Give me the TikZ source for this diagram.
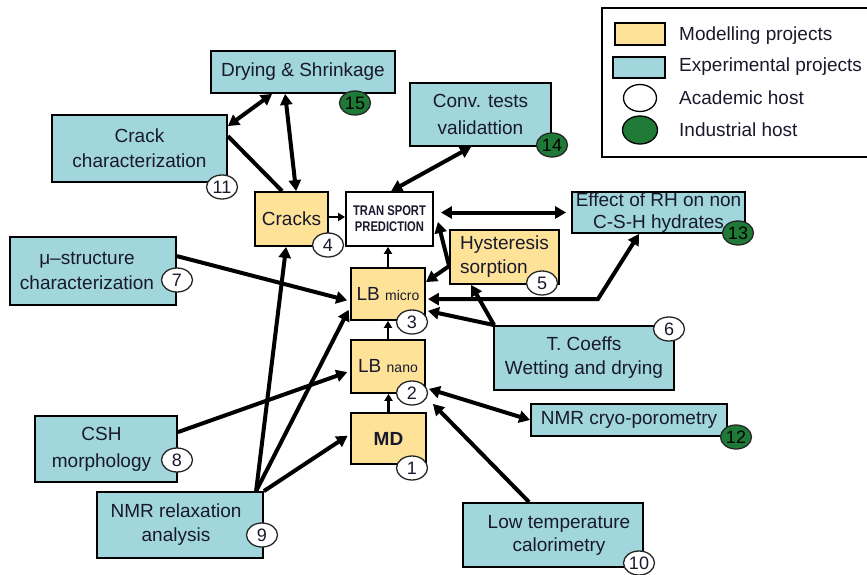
\documentclass[tikz,border=0pt]{standalone}
\usepackage{fontspec}
\setmainfont{Liberation Sans}
\usetikzlibrary{arrows.meta,shapes.geometric}
\definecolor{ylw}{RGB}{254,226,152}
\definecolor{cyn}{RGB}{160,214,220}
\definecolor{grn}{RGB}{31,122,56}
\definecolor{txt}{RGB}{25,25,45}
\begin{document}
\begin{tikzpicture}[x=1pt,y=-1pt,
  box/.style={draw=black, line width=1.8pt, inner sep=0pt, align=center, text=txt, font=\fontsize{19}{25}\selectfont},
  ybox/.style={box, fill=ylw},
  cbox/.style={box, fill=cyn},
  num/.style={ellipse, draw=black!85, line width=1.3pt, fill=white, minimum width=31pt, minimum height=24pt, inner sep=0pt, font=\fontsize{18}{18}\selectfont, text=txt},
  numg/.style={num, fill=grn, text=black},
  arr/.style={line width=4pt, -{Triangle[length=11pt,width=12pt]}},
  dbl/.style={line width=4pt, {Triangle[length=11pt,width=12pt]}-{Triangle[length=11pt,width=12pt]}},
  pl/.style={line width=4pt},
  sarr/.style={line width=2.8pt, -{Triangle[length=7pt,width=8pt]}},
  lgtext/.style={anchor=west, inner sep=0pt, text=txt, font=\fontsize{19}{22}\selectfont},
]
\useasboundingbox (0,0) rectangle (867,575);
\clip (0,0) rectangle (867,575);

% legend
\draw[line width=1.5pt] (602,8) rectangle (880,157);
\node[draw=black, line width=1.5pt, fill=ylw, minimum width=50pt, minimum height=22pt, inner sep=0pt] (lgy) at (640,34) {};
\node[draw=black, line width=1.5pt, fill=cyn, minimum width=52pt, minimum height=21pt, inner sep=0pt] (lgc) at (639,67.5) {};
\node[ellipse, draw=black, line width=1.3pt, fill=white, minimum width=33pt, minimum height=27pt, inner sep=0pt] (lga) at (640,98) {};
\node[ellipse, draw=black, line width=1.3pt, fill=grn, minimum width=35pt, minimum height=28pt, inner sep=0pt] (lgi) at (640,130) {};
\node[lgtext] (lty) at (679,36) {Modelling projects};
\node[lgtext] (ltc) at (679,67) {Experimental projects};
\node[lgtext] (lta) at (679,98) {Academic host};
\node[lgtext] (lti) at (679,130) {Industrial host};

% boxes
\node[cbox, minimum width=184pt, minimum height=42pt] (dry) at (303,72) {Drying \& Shrinkage};
\node[cbox, minimum width=175pt, minimum height=67pt] (crackc) at (139.5,148.5) {Crack\\characterization};
\node[ybox, minimum width=73pt, minimum height=54pt] (cracks) at (291.5,219) {Cracks};
\node[box, fill=white, minimum width=87pt, minimum height=54pt, font=\bfseries\fontsize{14}{16}\selectfont] (trans) at (389.5,219) {\scalebox{0.8}[1]{TRAN SPORT}\\\scalebox{0.8}[1]{PREDICTION}};
\node[cbox, minimum width=166pt, minimum height=68pt] (mu) at (93,271) {μ–structure\hspace*{12pt}\\characterization\hspace*{12pt}};
\node[cbox, minimum width=141pt, minimum height=63pt, font=\fontsize{19}{27}\selectfont] (conv) at (480.5,114.5) {Conv. tests\\validattion};
\node[cbox, minimum width=173pt, minimum height=41pt, font=\fontsize{19}{22}\selectfont] (effect) at (658.5,212.5) {Effect of RH on non\\C-S-H hydrates};
\node[ybox, minimum width=109pt, minimum height=54pt, align=left, font=\fontsize{19}{24}\selectfont] (hyst) at (504.5,257) {Hysteresis\\sorption};
\node[ybox, minimum width=74pt, minimum height=52pt] (lbm) at (388,294) {LB {\fontsize{14}{14}\selectfont micro}};
\node[ybox, minimum width=74pt, minimum height=53pt] (lbn) at (388,366.5) {LB {\fontsize{14}{14}\selectfont nano}};
\node[ybox, minimum width=75pt, minimum height=51pt] (md) at (388.5,438.5) {\bfseries MD};
\node[cbox, minimum width=180pt, minimum height=64pt, font=\fontsize{19}{24}\selectfont] (tco) at (584,358) {T. Coeffs\\Wetting and drying};
\node[cbox, minimum width=196pt, minimum height=32pt] (cryo) at (629,420) {NMR cryo-porometry};
\node[cbox, minimum width=180pt, minimum height=64pt, font=\fontsize{19}{23}\selectfont] (lowt) at (553,535) {\hspace*{12pt}Low temperature\\\hspace*{12pt}calorimetry};
\node[cbox, minimum width=142pt, minimum height=66pt, font=\fontsize{19}{27}\selectfont] (csh) at (106,449) {CSH\hspace*{9pt}\\morphology\hspace*{9pt}};
\node[cbox, minimum width=166pt, minimum height=66pt, font=\fontsize{19}{24}\selectfont] (nmrr) at (180,525) {NMR relaxation\hspace*{8pt}\\analysis\hspace*{8pt}};

% connectors
\draw[dbl] ([xshift=62pt]dry.south west) -- ([yshift=-12pt]crackc.north east);
\draw[dbl] ([xshift=75pt]dry.south west) -- ([xshift=42pt]cracks.north west);
\draw[pl] ([yshift=-22pt]crackc.north east) -- ([xshift=28pt]cracks.north west);
\draw[sarr] (cracks.east |- 0,217) -- (trans.west |- 0,217);
\draw[dbl] ([xshift=62pt]conv.south west) -- ([xshift=46pt]trans.north west);
\draw[dbl, shorten <=7pt, shorten >=5pt] (trans.east |- effect.west) -- (effect.west);
\draw[sarr] (lbm.north) -- (lbm.north |- trans.south);
\draw[arr] ([yshift=-37pt]hyst.north west) -- ([xshift=4pt,yshift=-3pt]trans.east);
\draw[arr] ([yshift=-37pt]hyst.north west) -- ([yshift=-15pt]lbm.north east);
\draw[arr] ([xshift=1pt]tco.north west) -- ([xshift=22pt]hyst.south west);
\draw[arr] ([xshift=1pt]tco.north west) -- ([xshift=2pt,yshift=10pt]lbm.south east);
\draw[dbl] ([xshift=2pt,yshift=-32pt]lbm.north east) -- ++(170,0) -- ([xshift=68pt]effect.south west);
\draw[arr, shorten >=3pt] ([yshift=-20pt]mu.north east) -- ([yshift=-34pt]lbm.north west);
\draw[arr] ([xshift=160pt]nmrr.north west) -- ([xshift=32pt]cracks.south west);
\draw[arr, shorten >=3pt] ([xshift=160pt]nmrr.north west) -- ([yshift=-40pt]lbm.north west);
\draw[arr, shorten >=3pt] (nmrr.north east) -- ([yshift=-22pt]md.north west);
\draw[arr, shorten >=3pt] ([yshift=-17pt]csh.north east) -- ([yshift=-32pt]lbn.north west);
\draw[sarr] (lbn.north) -- (lbm.south);
\draw[sarr] (md.north) -- (md.north |- lbn.south);
\draw[dbl] ([xshift=3pt,yshift=5pt]lbn.south east) -- (cryo.west);
\draw[arr] ([xshift=67pt]lowt.north west) -- ([xshift=7pt,yshift=-10pt]lbn.south east);

% host markers
\node[numg] (n15) at (355,103) {15};
\node[num] (n11) at (222,187) {11};
\node[num] (n4) at (328,245) {4};
\node[num] (n7) at (177,280) {7};
\node[numg] (n14) at (552,145) {14};
\node[numg] (n13) at (738,233) {13};
\node[num] (n5) at (542,283) {5};
\node[num] (n3) at (412,322) {3};
\node[num] (n2) at (412,393) {2};
\node[num] (n1) at (412,468) {1};
\node[num] (n6) at (669,329) {6};
\node[numg] (n12) at (736,437) {12};
\node[num] (n10) at (639,563) {10};
\node[num] (n8) at (177,460) {8};
\node[num] (n9) at (262,535) {9};
\end{tikzpicture}
\end{document}
